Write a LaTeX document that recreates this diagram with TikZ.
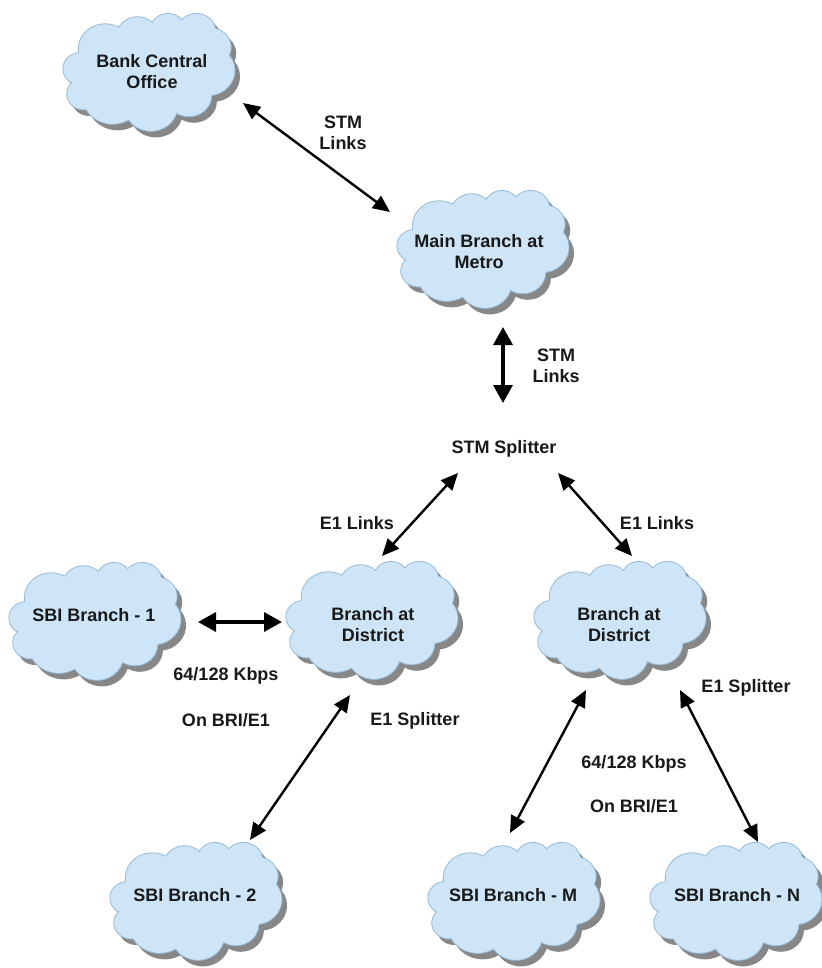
\documentclass[tikz,border=0pt]{standalone}
\usepackage{fontspec}
\setmainfont{Liberation Sans}
\usetikzlibrary{arrows.meta,calc}

\definecolor{cloudfill}{RGB}{205,229,246}
\definecolor{cloudline}{RGB}{150,185,215}
\definecolor{shadowgray}{RGB}{135,135,135}
\definecolor{txt}{RGB}{25,25,25}

% convert DrawingML (visual) arc angles to parametric ones
\newcommand\ppcalc[5]{%
  \pgfmathsetmacro\pptmpa{atan2(#2*sin(#4),#3*cos(#4))}%
  \pgfmathsetmacro\pptmpb{atan2(#2*sin(#4+#5),#3*cos(#4+#5))}%
  \pgfmathsetmacro\pptmpd{\pptmpb-\pptmpa}%
  \pgfmathsetmacro\pptmpd{\pptmpd<0 ? \pptmpd+360 : \pptmpd}%
  \expandafter\xdef\csname ppS#1\endcsname{\pptmpa}%
  \expandafter\xdef\csname ppD#1\endcsname{\pptmpd}%
}
\ppcalc{a}{6.753}{9.190}{-190.48748}{123.78053}
\ppcalc{b}{5.333}{7.267}{-144.10238}{89.94523}
\ppcalc{c}{4.365}{5.945}{-145.80792}{99.72302}
\ppcalc{d}{4.857}{6.595}{-130.98607}{117.24173}
\ppcalc{e}{5.333}{7.273}{-78.70888}{109.02692}
\ppcalc{f}{6.775}{9.220}{-46.26725}{130.26900}
\ppcalc{g}{5.785}{7.867}{0.62502}{114.03333}
\ppcalc{h}{6.752}{9.215}{22.45160}{115.17255}
\ppcalc{i}{7.720}{10.543}{66.24263}{75.71102}
\ppcalc{j}{4.360}{5.918}{-274.94208}{146.73557}
\ppcalc{k}{4.345}{5.945}{-246.82850}{152.51885}

% #1,#2 top-left corner (picture coords), #3 path style
\newcommand\cloudshape[3]{%
  \begin{scope}[shift={(#1,#2)},x=3.981pt,y=-2.731pt]
    \path[#3] (3.9,14.37)
      arc[x radius=6.753,y radius=9.190,start angle=\ppSa,delta angle=\ppDa]
      arc[x radius=5.333,y radius=7.267,start angle=\ppSb,delta angle=\ppDb]
      arc[x radius=4.365,y radius=5.945,start angle=\ppSc,delta angle=\ppDc]
      arc[x radius=4.857,y radius=6.595,start angle=\ppSd,delta angle=\ppDd]
      arc[x radius=5.333,y radius=7.273,start angle=\ppSe,delta angle=\ppDe]
      arc[x radius=6.775,y radius=9.220,start angle=\ppSf,delta angle=\ppDf]
      arc[x radius=5.785,y radius=7.867,start angle=\ppSg,delta angle=\ppDg]
      arc[x radius=6.752,y radius=9.215,start angle=\ppSh,delta angle=\ppDh]
      arc[x radius=7.720,y radius=10.543,start angle=\ppSi,delta angle=\ppDi]
      arc[x radius=4.360,y radius=5.918,start angle=\ppSj,delta angle=\ppDj]
      arc[x radius=4.345,y radius=5.945,start angle=\ppSk,delta angle=\ppDk]
      -- cycle;
  \end{scope}}
% cloud centred at (#1,#2)
\newcommand\cloudat[2]{%
  \cloudshape{#1-86+5}{#2-59+6}{fill=shadowgray}%
  \cloudshape{#1-86}{#2-59}{fill=cloudfill,draw=cloudline,line width=0.8pt}}

\begin{document}
\begin{tikzpicture}[x=1pt,y=-1pt,
  lbl/.style={font=\bfseries\fontsize{18}{21}\selectfont,text=txt,align=center,inner sep=0pt},
  arr/.style={line width=2.4pt,draw=black,
    {Triangle[length=17pt,width=15pt]}-{Triangle[length=17pt,width=15pt]}},
  arrthick/.style={line width=3.4pt,draw=black,
    {Triangle[length=18pt,width=19pt]}-{Triangle[length=18pt,width=19pt]}}]
\useasboundingbox (0,0) rectangle (821,968);

% clouds
\cloudat{149}{72}
\cloudat{483}{249}
\cloudat{95}{621}
\cloudat{372}{620}
\cloudat{620}{620}
\cloudat{196}{901}
\cloudat{514}{901}
\cloudat{736}{901}

% cloud texts
\node[lbl] (bco) at (152,72) {Bank Central\\Office};
\node[lbl] (mbm) at (479,252) {Main Branch at\\Metro};
\node[lbl] (split) at (504,449) {STM Splitter};
\node[lbl] (s1) at (94,615) {SBI Branch - 1};
\node[lbl] (dl) at (373,625) {Branch at\\District};
\node[lbl] (dr) at (619,625) {Branch at\\District};
\node[lbl] (s2) at (195,895) {SBI Branch - 2};
\node[lbl] (sm) at (513,895) {SBI Branch - M};
\node[lbl] (sn) at (737,895) {SBI Branch - N};

% connector labels
\node[lbl] (lstma) at (343,133) {STM\\Links};
\node[lbl] (lstmb) at (556,366) {STM\\Links};
\node[lbl] (le1a) at (357,523) {E1 Links};
\node[lbl] (le1b) at (657,523) {E1 Links};
\node[lbl] (lkba) at (226,676) {64/128 Kbps};
\node[lbl] (lona) at (226,720) {On BRI/E1};
\node[lbl] (lspa) at (415,721) {E1 Splitter};
\node[lbl] (lspb) at (746,688) {E1 Splitter};
\node[lbl] (lkbb) at (634,764) {64/128 Kbps};
\node[lbl] (lonb) at (634,806) {On BRI/E1};

% connectors
\draw[arr] ($(bco)+(91,31)$) -- ($(mbm)+(-89,-40)$);
\draw[arrthick] ($(mbm)+(24,75)$) -- ($(split)+(-1,-46)$);
\draw[arr] ($(split)+(-46,24)$) -- ($(dl)+(9,-69)$);
\draw[arr] ($(split)+(54,24)$) -- ($(dr)+(13,-69)$);
\draw[arrthick] ($(s1)+(104,7)$) -- ($(dl)+(-91,-3)$);
\draw[arr] ($(dl)+(-23,70)$) -- ($(s2)+(55,-55)$);
\draw[arr] ($(dr)+(-33,65)$) -- ($(sm)+(-3,-62)$);
\draw[arr] ($(dr)+(61,65)$) -- ($(sn)+(21,-53)$);
\end{tikzpicture}
\end{document}
